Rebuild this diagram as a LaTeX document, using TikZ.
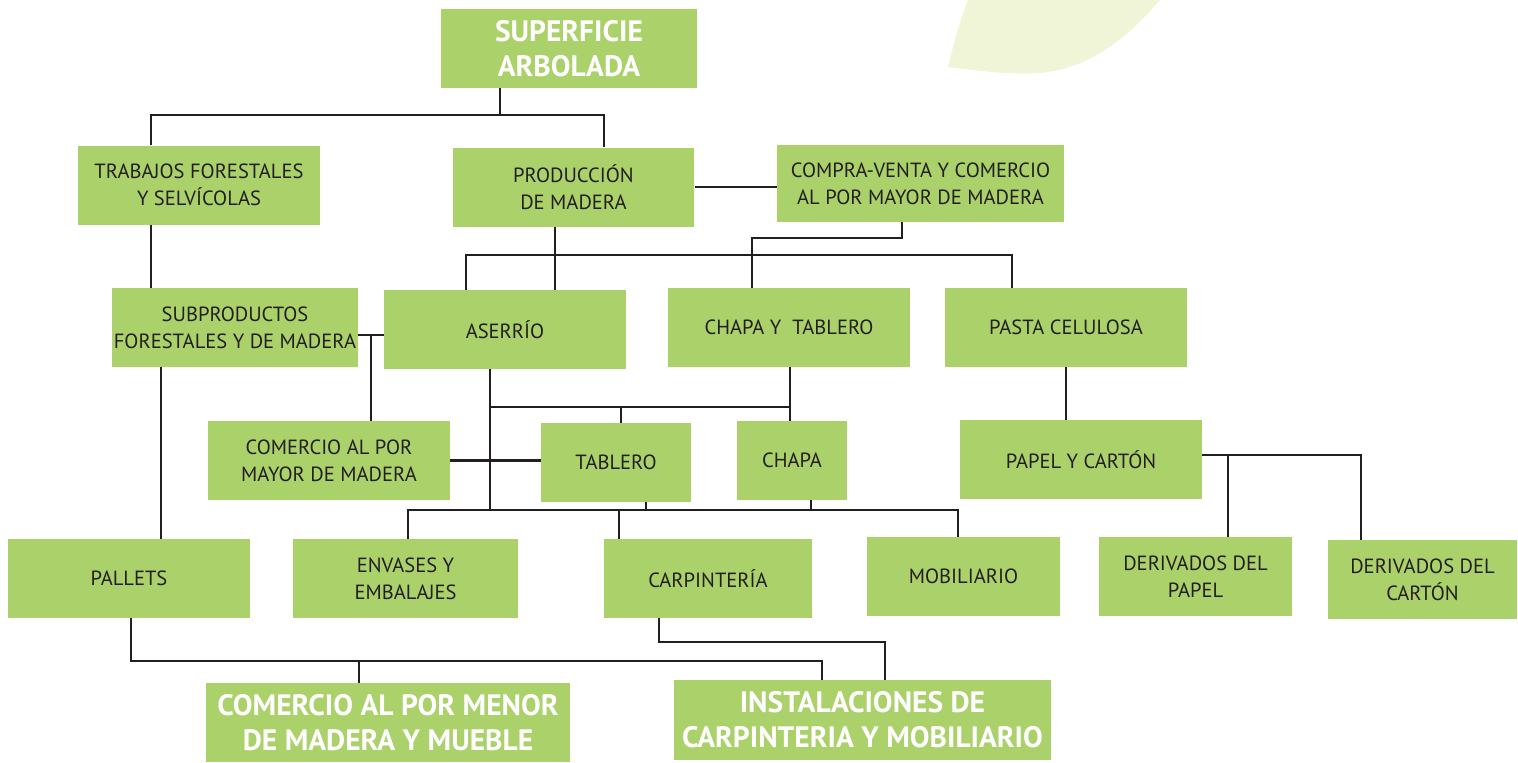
\documentclass[tikz,border=0pt]{standalone}
\usepackage{fontspec}
\setmainfont{PT Sans}
\definecolor{boxgreen}{HTML}{ABD16A}
\definecolor{ink}{HTML}{231F20}
\definecolor{leaf}{HTML}{F0F5D8}

\begin{document}
\begin{tikzpicture}[x=0.02cm, y=-0.02cm]

\tikzset{box/.style = {fill=boxgreen, text=ink, align=center, inner xsep=1pt,
  minimum width=4.84cm, minimum height=1.58cm,
  font=\fontsize{11.7}{15.4}\selectfont}}
\tikzset{big/.style = {box, text=white, font=\bfseries\fontsize{16.8}{20}\selectfont}}
\tikzset{edge/.style = {draw=ink, line width=1.3pt}}

\useasboundingbox (0,0) rectangle (1518,762);

% leaf
\fill[leaf] (948,67) .. controls (955,38) and (961,18) .. (968,0) -- (1160,0)
  .. controls (1125,40) and (1090,68) .. (1040,73) .. controls (1010,75) and (980,71) .. (948,67);

% vertices
\node[big, minimum width=5.12cm] (sup) at (569,48.5) {SUPERFICIE\\ARBOLADA};
\node[box] (trab) at (199,185) {TRABAJOS FORESTALES\\Y SELVÍCOLAS};
\node[box] (prod) at (573.5,187) {PRODUCCIÓN\\DE MADERA};
\node[box, minimum width=5.74cm, minimum height=1.54cm] (comp) at (920.5,183.5) {COMPRA-VENTA Y COMERCIO\\AL POR MAYOR DE MADERA};
\node[box] (subp) at (235,327.5) {SUBPRODUCTOS\\FORESTALES Y DE MADERA};
\node[box] (aser) at (505,329.5) {ASERRÍO};
\node[box] (chyt) at (789,327.5) {CHAPA Y \ TABLERO};
\node[box] (pasta) at (1066,327.5) {PASTA CELULOSA};
\node[box] (cmay) at (329,460.5) {COMERCIO AL POR\\MAYOR DE MADERA};
\node[box, minimum width=3cm] (tabl) at (616,462.5) {TABLERO};
\node[box, minimum width=2.2cm] (chapa) at (792,460.5) {CHAPA};
\node[box] (papel) at (1081,459.5) {PAPEL Y CARTÓN};
\node[box] (pall) at (129,578.5) {PALLETS};
\node[box, minimum width=4.5cm] (env) at (405.5,578.5) {ENVASES Y\\EMBALAJES};
\node[box, minimum width=4.16cm] (carp) at (708,578.5) {CARPINTERÍA};
\node[box, minimum width=3.86cm] (mob) at (963.5,576.5) {MOBILIARIO};
\node[box, minimum width=3.86cm] (dpap) at (1195.5,576.5) {DERIVADOS DEL\\PAPEL};
\node[box, minimum width=3.78cm] (dcar) at (1422.5,579.5) {DERIVADOS DEL\\CARTÓN};
\node[big, minimum width=7.28cm] (menor) at (388,722.5) {COMERCIO AL POR MENOR\\DE MADERA Y MUEBLE};
\node[big, minimum width=7.54cm, minimum height=1.6cm] (inst) at (862.5,720) {INSTALACIONES DE\\CARPINTERIA Y MOBILIARIO};

% junctions
\coordinate (j1) at (500,115);
\coordinate (b1l) at (151,115);
\coordinate (b1r) at (604,115);
\coordinate (c4) at (555,255);
\coordinate (b2l) at (466,255);
\coordinate (b2r) at (1012,255);
\coordinate (b3l) at (752,238);
\coordinate (b3r) at (902,238);
\coordinate (b4) at (371,335);
\coordinate (b5l) at (490,407);
\coordinate (b5m) at (621,407);
\coordinate (b5r) at (790,407);
\coordinate (b7l) at (408,510);
\coordinate (b7c) at (619,510);
\coordinate (b7t) at (646,510);
\coordinate (b7h) at (811,510);
\coordinate (b7r) at (958,510);
\coordinate (b8p) at (1228,455);
\coordinate (b8) at (1361,455);
\coordinate (c12) at (161,450);
\coordinate (b10l) at (131,661);
\coordinate (b10m) at (359,661);
\coordinate (b10r) at (822,661);
\coordinate (b11l) at (659,642);
\coordinate (b11r) at (885,642);

%edges
\draw[edge] (sup.south -| j1) -- (j1);
\draw[edge] (trab.north -| b1l) -- (b1l) -- (b1r) -- (prod.north -| b1r);
\draw[edge] (prod.east) -- (comp.west |- prod.east);
\draw[edge] (trab.south -| b1l) -- (subp.north -| b1l);
\draw[edge] (prod.south -| c4) -- (aser.north -| c4);
\draw[edge] (aser.north -| b2l) -- (b2l) -- (b2r) -- (pasta.north -| b2r);
\draw[edge] (comp.south -| b3r) -- (b3r) -- (b3l) -- (chyt.north -| b3l);
\draw[edge] (subp.east |- b4) -- (aser.west |- b4);
\draw[edge] (b4) -- (cmay.north -| b4);
\draw[edge] (aser.south -| b5l) -- (b5l |- b7l);
\draw[edge] (b5l) -- (b5r);
\draw[edge] (chyt.south -| b5r) -- (chapa.north -| b5r);
\draw[edge] (b5m) -- (tabl.north -| b5m);
\draw[edge] (cmay.east) -- (tabl.west |- cmay.east);
\draw[edge] (env.north -| b7l) -- (b7l) -- (b7r) -- (mob.north -| b7r);
\draw[edge] (b7c) -- (carp.north -| b7c);
\draw[edge] (tabl.south -| b7t) -- (b7t);
\draw[edge] (chapa.south -| b7h) -- (b7h);
\draw[edge] (pasta.south) -- (papel.north -| pasta.south);
\draw[edge] (papel.east |- b8) -- (b8) -- (dcar.north -| b8);
\draw[edge] (b8p) -- (dpap.north -| b8p);
\draw[edge] (subp.south -| c12) -- (pall.north -| c12);
\draw[edge] (pall.south -| b10l) -- (b10l) -- (b10r) -- (inst.north -| b10r);
\draw[edge] (b10m) -- (menor.north -| b10m);
\draw[edge] (carp.south -| b11l) -- (b11l) -- (b11r) -- (inst.north -| b11r);

\end{tikzpicture}
\end{document}
